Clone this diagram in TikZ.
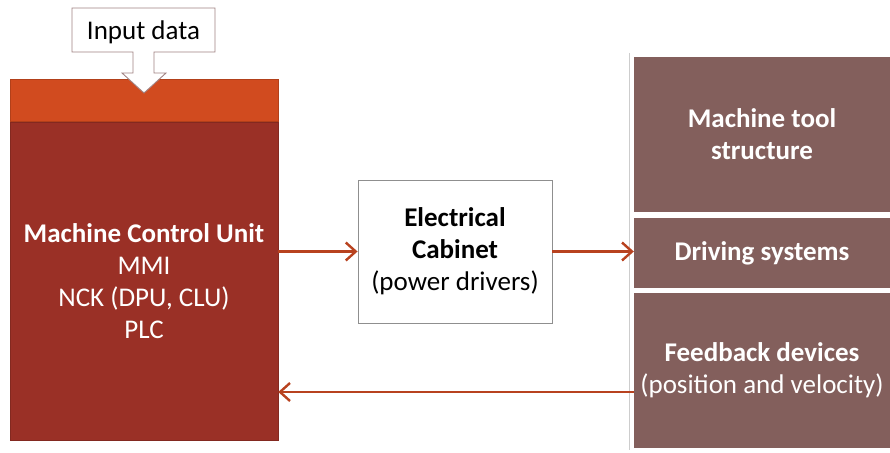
\documentclass[tikz,border=0pt]{standalone}
\usepackage{fontspec}
\setmainfont{Carlito}
\usetikzlibrary{arrows.meta, positioning, calc}
\definecolor{mcuRed}{HTML}{9A3026}
\definecolor{mcuBand}{HTML}{D14B1F}
\definecolor{plantMauve}{HTML}{835F5C}
\definecolor{linkRust}{HTML}{B8421F}
\definecolor{edgeGray}{HTML}{8F8F8F}
\definecolor{calloutEdge}{HTML}{A08282}
\tikzset{
  txt/.style={font=\fontsize{27}{32}\selectfont},
  block/.style={draw=edgeGray, line width=0.9pt, fill=white, align=center, inner sep=0pt, txt},
  plant/.style={fill=plantMauve, text=white, minimum width=256pt, align=center, inner sep=0pt, txt},
  link/.style={-{Straight Barb[length=10pt,width=18pt]}, draw=linkRust, line width=2.4pt},
}

\begin{document}
\begin{tikzpicture}[x=1pt, y=-1pt]
\useasboundingbox (0,0) rectangle (890,452);
% control unit
\node[draw=mcuRed!85!black, fill=mcuRed, text=white, minimum width=268pt, minimum height=318pt,
      align=center, inner sep=0pt, txt] (mcu) at (144,281)
  {\textbf{Machine Control Unit}\\MMI\\NCK (DPU, CLU)\\PLC};
\node[draw=mcuBand!85!black, fill=mcuBand, minimum width=268pt, minimum height=42pt,
      inner sep=0pt, anchor=south] (band) at (mcu.north) {};
% input callout
\draw[draw=calloutEdge, fill=white, line width=0.9pt]
  (72,8) -- (215,8) -- (215,52) -- (154,52) -- (154,73) -- (166,73) -- (144,93)
  -- (122,73) -- (133,73) -- (133,52) -- (72,52) -- cycle;
\node[txt, inner sep=0pt] (inp) at (143.5,32) {Input data};
% cabinet
\node[block, minimum width=194pt, minimum height=143pt] (cab) at (455,251.5)
  {\textbf{Electrical}\\\textbf{Cabinet}\\(power drivers)};
% machine side
\draw[edgeGray!45, line width=0.8pt] (629,53) -- (629,450);
\node[plant, minimum height=155pt, font=\fontsize{27}{32}\selectfont\bfseries] (mts) at (762,134.5)
  {Machine tool\\structure};
\node[plant, minimum height=70pt, font=\fontsize{27}{32}\selectfont\bfseries] (drv) at (762,253)
  {Driving systems};
\node[plant, minimum height=155pt] (fbk) at (762,370.5)
  {\textbf{Feedback devices}\\(position and velocity)};
% signal flow
\coordinate (fb) at (700,392);
\draw[link] (mcu.east |- cab.west) -- (cab.west);
\draw[link] (cab.east) -- (drv.west |- cab.east);
\draw[link] (fbk.west |- fb) -- (mcu.east |- fb);
\end{tikzpicture}
\end{document}
